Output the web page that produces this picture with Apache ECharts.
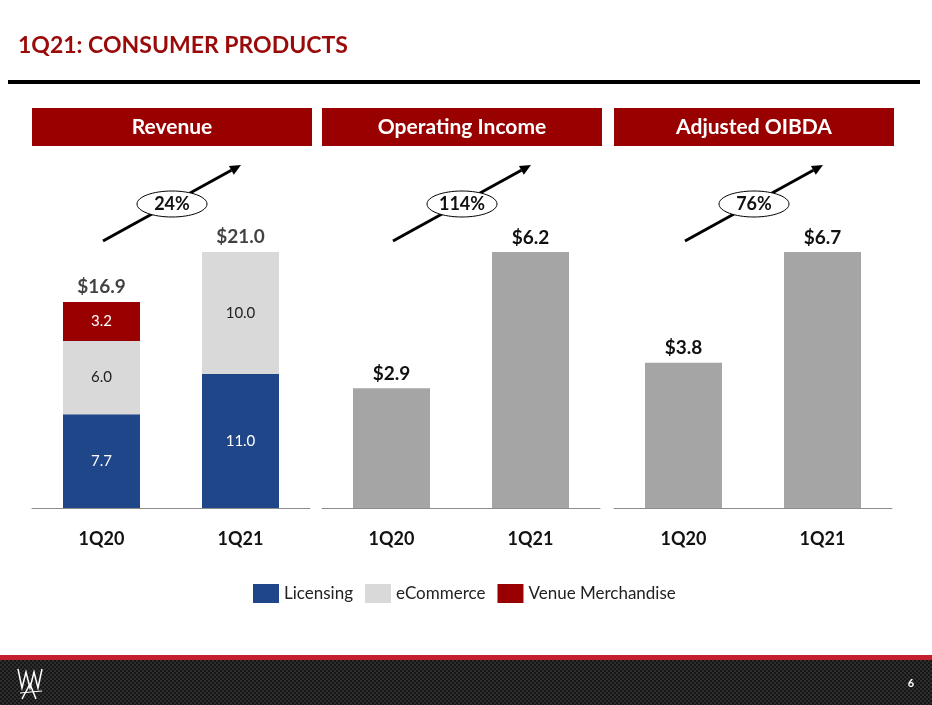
<!DOCTYPE html>
<html>
<head>
<meta charset="utf-8">
<script src="https://cdn.jsdelivr.net/npm/echarts@6/dist/echarts.min.js"></script>
<style>
html,body{margin:0;padding:0;background:#fff;}
#chart{width:932px;height:705px;}
</style>
</head>
<body>
<div id="chart"></div>
<script>
// ---- data ----
const categories = ['1Q20', '1Q21'];
const licensing = [7.7, 11.0];
const ecommerce = [6.0, 10.0];
const venue = [3.2, null];
const revenueTotal = [16.9, 21.0];
const operatingIncome = [2.9, 6.2];
const adjustedOibda = [3.8, 6.7];
const panelTitles = ['Revenue', 'Operating Income', 'Adjusted OIBDA'];
const growthLabels = ['24%', '114%', '76%'];
const legendNames = ['Licensing', 'eCommerce', 'Venue Merchandise'];
const pageTitle = '1Q21: CONSUMER PRODUCTS';
const pageNumber = '6';

// ---- style ----
const FONT = 'Lato, "Open Sans", sans-serif';
const RED = '#990000';
const BLUE = '#1f4688';
const LGREY = '#d9d9d9';
const DGREY = '#a5a5a5';
const panelLeft = [32, 322, 614];
const panelWidth = 280;
const gridTop = 252, gridBottom = 197;

const chart = echarts.init(document.getElementById('chart'), null, {renderer: 'canvas'});

const grids = [], xAxes = [], yAxes = [];
const maxima = [Math.max(...revenueTotal), Math.max(...operatingIncome), Math.max(...adjustedOibda)];
panelLeft.forEach((l, i) => {
  grids.push({left: l, width: 278, top: gridTop, bottom: gridBottom});
  xAxes.push({
    type: 'category', gridIndex: i, data: categories,
    axisLine: {lineStyle: {color: '#8c8c8c', width: 1}},
    axisTick: {show: false},
    axisLabel: {fontFamily: FONT, fontWeight: 'bold', fontSize: 18, color: '#111', margin: 22}
  });
  yAxes.push({type: 'value', gridIndex: i, min: 0, max: maxima[i], show: false, splitLine: {show: false}});
});

const insideLabel = (color) => ({
  show: true, position: 'inside', fontFamily: FONT, fontSize: 15, color: color,
  formatter: p => p.value == null ? '' : p.value.toFixed(1)
});
const topLabel = {
  show: true, position: 'top', distance: 5, fontFamily: FONT, fontWeight: 'bold', fontSize: 19, color: '#111',
  formatter: p => '$' + Number(p.value).toFixed(1)
};
const BW = 77;

const series = [
  {name: legendNames[0], type: 'bar', stack: 'rev', xAxisIndex: 0, yAxisIndex: 0, barWidth: BW,
   data: licensing, itemStyle: {color: BLUE}, label: insideLabel('#fff')},
  {name: legendNames[1], type: 'bar', stack: 'rev', xAxisIndex: 0, yAxisIndex: 0, barWidth: BW,
   data: ecommerce, itemStyle: {color: LGREY}, label: insideLabel('#222')},
  {name: legendNames[2], type: 'bar', stack: 'rev', xAxisIndex: 0, yAxisIndex: 0, barWidth: BW,
   data: venue, itemStyle: {color: RED}, label: insideLabel('#fff')},
  {name: 'Total', type: 'scatter', xAxisIndex: 0, yAxisIndex: 0, data: revenueTotal,
   symbolSize: 1, itemStyle: {color: 'rgba(0,0,0,0)'}, label: topLabel, silent: true},
  {name: 'Operating Income', type: 'bar', xAxisIndex: 1, yAxisIndex: 1, barWidth: BW,
   data: operatingIncome, itemStyle: {color: DGREY}, label: topLabel},
  {name: 'Adjusted OIBDA', type: 'bar', xAxisIndex: 2, yAxisIndex: 2, barWidth: BW,
   data: adjustedOibda, itemStyle: {color: DGREY}, label: topLabel}
];

// ---- decorations ----
const graphics = [];
graphics.push({type: 'text', x: 18, y: 46, style: {text: pageTitle, fontFamily: FONT, fontWeight: 'bold', fontSize: 23, fill: '#9b0a0a', verticalAlign: 'middle'}});
graphics.push({type: 'rect', shape: {x: 8, y: 80, width: 912, height: 4}, style: {fill: '#000'}});
panelLeft.forEach((l, i) => {
  graphics.push({type: 'rect', shape: {x: l, y: 108, width: panelWidth, height: 38}, style: {fill: RED}});
  graphics.push({type: 'text', x: l + panelWidth / 2, y: 127,
    style: {text: panelTitles[i], fontFamily: FONT, fontWeight: 'bold', fontSize: 21, fill: '#fff', align: 'center', verticalAlign: 'middle'}});
  // arrow
  const x1 = l + 71, y1 = 241, x2 = l + 209, y2 = 165;
  const dx = x2 - x1, dy = y2 - y1, len = Math.hypot(dx, dy), ux = dx / len, uy = dy / len;
  const hl = 11, hw = 5;
  const bx = x2 - ux * hl, by = y2 - uy * hl;
  graphics.push({type: 'line', shape: {x1: x1, y1: y1, x2: bx, y2: by}, style: {stroke: '#000', lineWidth: 3}});
  graphics.push({type: 'polygon', shape: {points: [[x2, y2], [bx - uy * hw, by + ux * hw], [bx + uy * hw, by - ux * hw]]}, style: {fill: '#000'}});
  graphics.push({type: 'ellipse', shape: {cx: l + 140, cy: 204, rx: 35, ry: 13}, style: {fill: '#fff', stroke: '#000', lineWidth: 1}});
  graphics.push({type: 'text', x: l + 140, y: 204,
    style: {text: growthLabels[i], fontFamily: FONT, fontWeight: 'bold', fontSize: 18, fill: '#111', align: 'center', verticalAlign: 'middle'}});
});

// footer
const pc = document.createElement('canvas');
pc.width = 4; pc.height = 4;
const pctx = pc.getContext('2d');
pctx.fillStyle = '#161616'; pctx.fillRect(0, 0, 4, 4);
pctx.fillStyle = '#2e2e2e'; pctx.fillRect(0, 0, 2, 2); pctx.fillRect(2, 2, 2, 2);
graphics.push({type: 'rect', shape: {x: 0, y: 655, width: 932, height: 5}, style: {fill: '#c41f2c'}});
graphics.push({type: 'rect', shape: {x: 0, y: 660, width: 932, height: 45}, style: {fill: {image: pc, repeat: 'repeat'}}});
graphics.push({type: 'polyline', shape: {points: [[18, 669], [22, 688], [26, 672], [30, 688], [34, 672], [38, 688], [42, 669]]}, style: {stroke: '#fff', lineWidth: 1.5, fill: null}});
graphics.push({type: 'polyline', shape: {points: [[22, 699], [30, 684], [36, 699]]}, style: {stroke: '#fff', lineWidth: 1.5, fill: null}});
graphics.push({type: 'line', shape: {x1: 20, y1: 693, x2: 42, y2: 691}, style: {stroke: '#fff', lineWidth: 1.2}});
graphics.push({type: 'text', x: 911, y: 683, style: {text: pageNumber, fontFamily: FONT, fontWeight: 'bold', fontSize: 11, fill: '#fff', align: 'center', verticalAlign: 'middle'}});

chart.setOption({
  animation: false,
  backgroundColor: '#fff',
  grid: grids, xAxis: xAxes, yAxis: yAxes,
  legend: {
    data: legendNames, left: 253, top: 584, padding: 0, itemWidth: 26, itemHeight: 19, itemGap: 12,
    icon: 'rect', textStyle: {fontFamily: FONT, fontSize: 17, color: '#222'}
  },
  series: series,
  graphic: graphics
});
</script>
</body>
</html>
